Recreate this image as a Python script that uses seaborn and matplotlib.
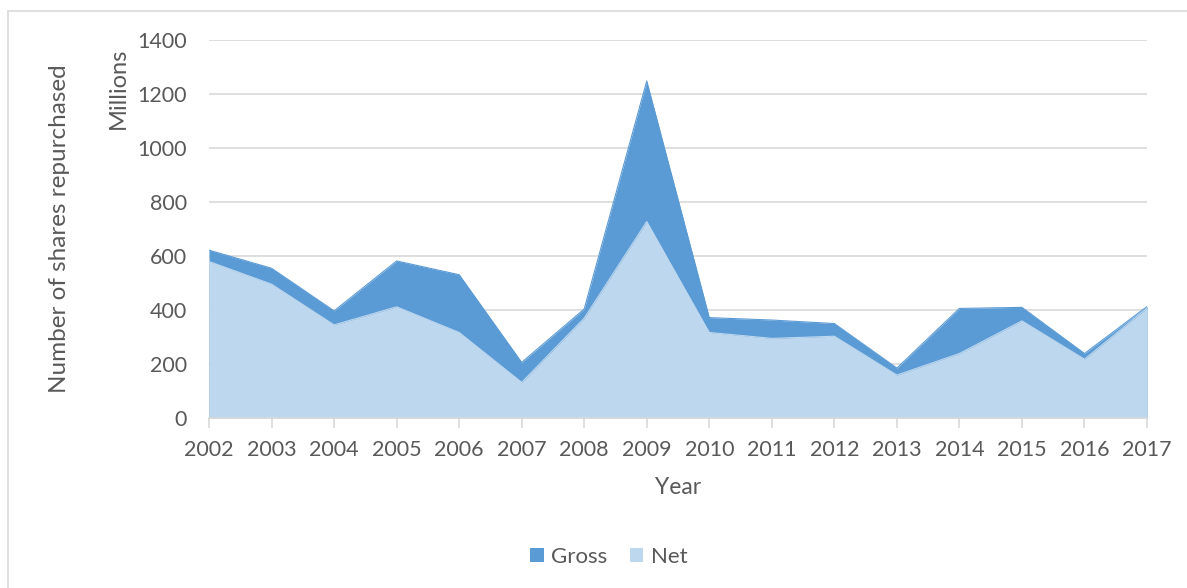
import matplotlib
matplotlib.use("Agg")
import matplotlib.pyplot as plt
from matplotlib.patches import Patch
from matplotlib.lines import Line2D
import seaborn as sns
import pandas as pd

# Share repurchases, in millions of shares
years = [2002, 2003, 2004, 2005, 2006, 2007, 2008, 2009,
         2010, 2011, 2012, 2013, 2014, 2015, 2016, 2017]
gross = [621, 554, 396, 581, 530, 205, 403, 1248,
         371, 362, 349, 184, 405, 409, 238, 412]
net = [579, 495, 344, 411, 316, 131, 369, 727,
       316, 294, 302, 158, 238, 359, 217, 406]

GROSS_COLOR = "#5B9BD5"
NET_COLOR = "#BDD7EE"
TEXT_COLOR = "#595959"
GRID_COLOR = "#D9D9D9"

sns.set_theme(style="white")
plt.rcParams["font.family"] = ["Lato", "DejaVu Sans"]

df = pd.DataFrame({"pos": range(len(years)), "Year": years,
                   "Gross": gross, "Net": net})

fig = plt.figure(figsize=(11.87, 5.88), dpi=100)
ax = fig.add_axes([209 / 1187, 1 - 417.7 / 588, (1147 - 209) / 1187, (417.7 - 40) / 588])

# Outline lines drawn by seaborn, areas filled beneath them
sns.lineplot(data=df, x="pos", y="Gross", ax=ax, color=GROSS_COLOR, linewidth=0.8, zorder=2)
ax.fill_between(df["pos"], 0, df["Gross"], color=GROSS_COLOR, linewidth=0, zorder=2)
sns.lineplot(data=df, x="pos", y="Net", ax=ax, color=NET_COLOR, linewidth=0.8, zorder=3)
ax.fill_between(df["pos"], 0, df["Net"], color=NET_COLOR, linewidth=0, zorder=3)

ax.set_xlim(0, len(years) - 1)
ax.set_ylim(0, 1400)
ax.set_yticks(range(0, 1401, 200))
ax.set_xticks(range(len(years)))
ax.set_xticklabels([str(y) for y in years])

ax.yaxis.grid(True, color=GRID_COLOR, linewidth=1.2, zorder=0)
ax.xaxis.grid(False)
ax.set_axisbelow(True)
for side in ["left", "right", "top"]:
    ax.spines[side].set_visible(False)
ax.spines["bottom"].set_color(GRID_COLOR)
ax.spines["bottom"].set_linewidth(1.2)
ax.spines["bottom"].set_zorder(4)

ax.tick_params(axis="y", length=0, pad=16, labelsize=15.5, labelcolor=TEXT_COLOR)
ax.tick_params(axis="x", bottom=True, length=7, width=1.2, color=GRID_COLOR,
               direction="out", pad=9, labelsize=15.5, labelcolor=TEXT_COLOR)

ax.set_xlabel("Year", fontsize=16.5, color=TEXT_COLOR, labelpad=12)
ax.set_ylabel("")
fig.text(60 / 1187, 1 - 229 / 588, "Number of shares repurchased", rotation=90,
         ha="center", va="center", fontsize=17.5, color=TEXT_COLOR)
fig.text(118 / 1187, 1 - 88 / 588, "Millions", rotation=90,
         ha="center", va="center", fontsize=17, color=TEXT_COLOR)

handles = [Patch(facecolor=GROSS_COLOR, edgecolor="none", label="Gross"),
           Patch(facecolor=NET_COLOR, edgecolor="none", label="Net")]
fig.legend(handles=handles, loc="center", bbox_to_anchor=(609 / 1187, 1 - 557 / 588),
           ncol=2, frameon=False, fontsize=16, labelcolor=TEXT_COLOR,
           handlelength=0.6, handleheight=0.6, handletextpad=0.35, columnspacing=1.0)

# Chart frame
fig.add_artist(Line2D([8 / 1187, 8 / 1187], [0, 1 - 11 / 588], color=GRID_COLOR,
                      linewidth=1.2, transform=fig.transFigure))
fig.add_artist(Line2D([8 / 1187, 1], [1 - 11 / 588, 1 - 11 / 588], color=GRID_COLOR,
                      linewidth=1.2, transform=fig.transFigure))

fig.savefig("out.png", dpi=100, facecolor="white")
